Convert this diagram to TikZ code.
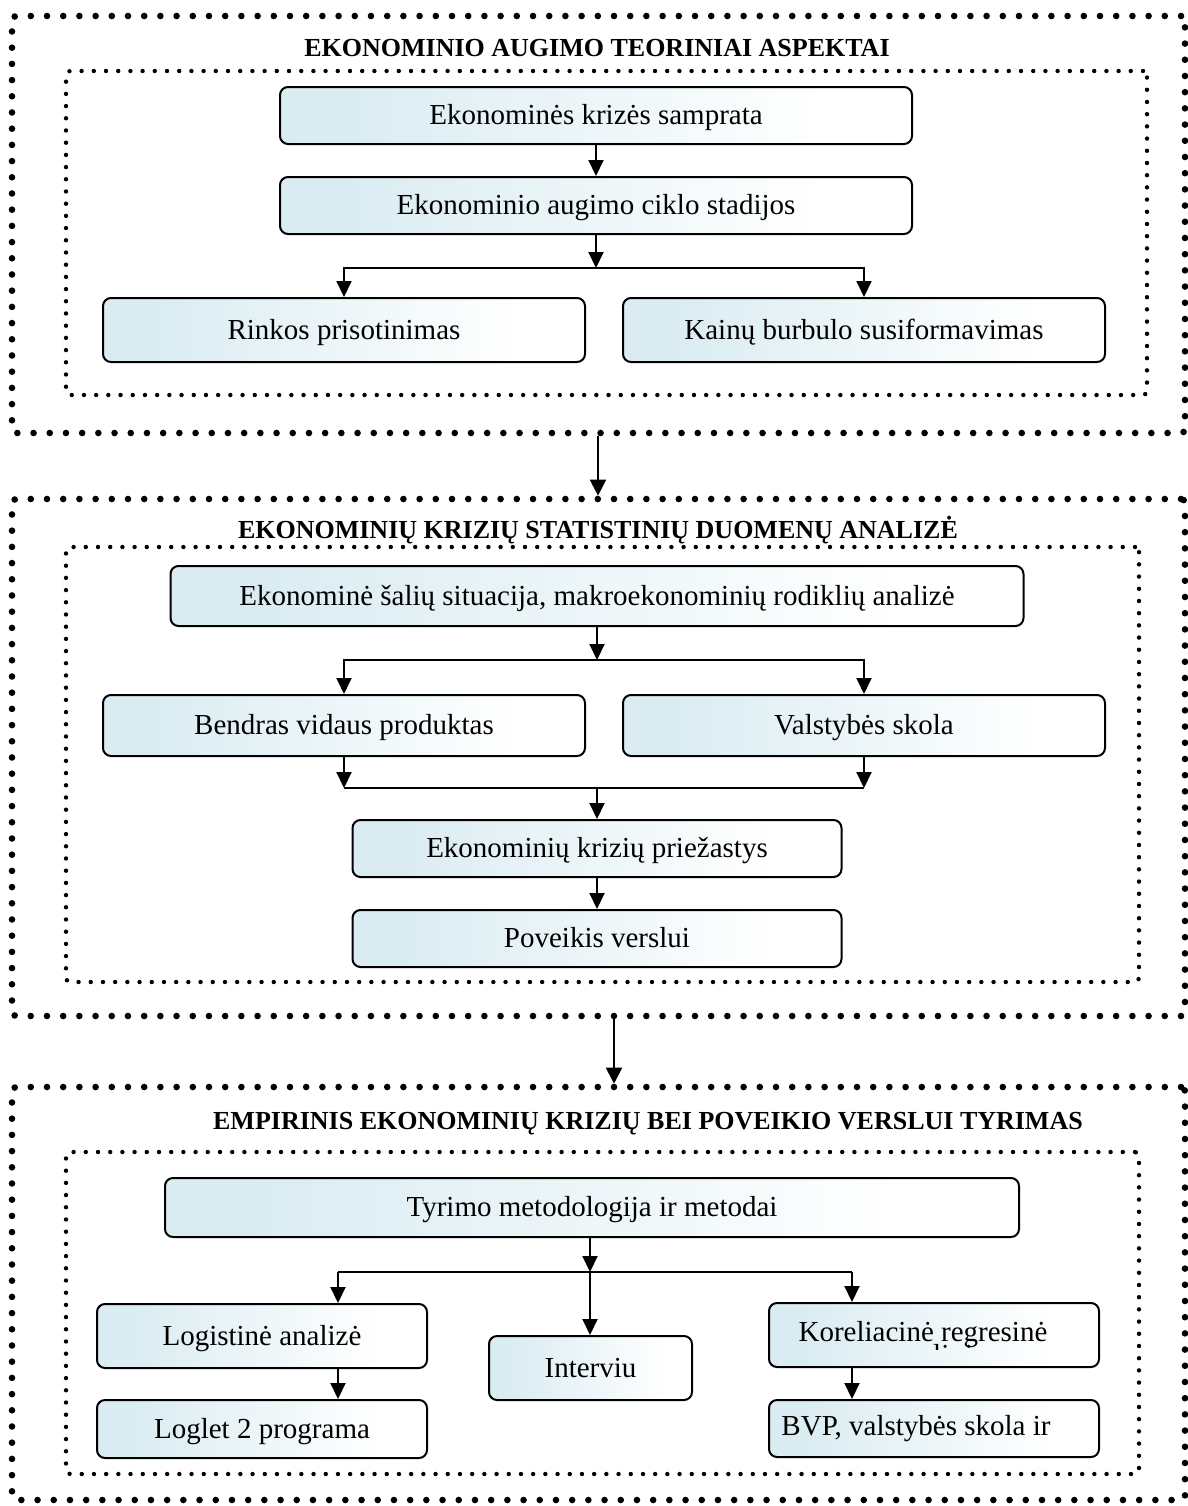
\documentclass[tikz,border=0pt]{standalone}
\usepackage{fontspec}
\setmainfont{Liberation Serif}
\usetikzlibrary{arrows.meta,calc}

\definecolor{boxblue}{RGB}{218,236,242}
% light blue on the left, fading to white towards the right edge
\pgfdeclarehorizontalshading{boxshade}{100bp}{color(0bp)=(boxblue); color(30bp)=(boxblue); color(68bp)=(white); color(100bp)=(white)}

\tikzset{
  box/.style={draw, line width=1pt, rounded corners=4pt, shading=boxshade,
    inner sep=0pt, text height=12pt, text depth=3pt,
    font=\fontsize{14.5}{17}\selectfont},
  outerframe/.style={draw, line width=3.3pt, line cap=round,
    dash pattern=on 0pt off 8.1pt, inner sep=0pt, rounded corners=2pt},
  innerframe/.style={draw, line width=2.2pt, line cap=round,
    dash pattern=on 0pt off 6.1pt, inner sep=0pt, rounded corners=2pt},
  sectitle/.style={font=\fontsize{13}{15}\selectfont\bfseries, inner sep=0pt},
  plain/.style={font=\fontsize{14.5}{17}\selectfont, inner sep=0pt},
  link/.style={line width=1pt, -{Triangle[length=8pt,width=7.5pt]}},
  biglink/.style={line width=1pt, -{Triangle[length=8pt,width=8pt]}},
  flow/.style={line width=1pt},
}

\begin{document}
\begin{tikzpicture}[x=0.5pt, y=-0.5pt]
\useasboundingbox (0,0) rectangle (1188,1506);

% ---------- frames ----------
\node[outerframe, minimum width=586.5pt, minimum height=208.5pt] (sec1) at (598.5,224.5) {};
\node[outerframe, minimum width=586.5pt, minimum height=258.5pt] (sec2) at (598.5,757.5) {};
\node[outerframe, minimum width=586.5pt, minimum height=206.5pt] (sec3) at (598.5,1293.5) {};

\node[innerframe, minimum width=540.5pt, minimum height=162pt] (in1) at (606.5,233) {};
\node[innerframe, minimum width=536.5pt, minimum height=217.5pt] (in2) at (602.5,764.5) {};
\node[innerframe, minimum width=536.5pt, minimum height=161pt] (in3) at (602.5,1313) {};

% ---------- titles ----------
\node[sectitle] (t1) at (597,48) {EKONOMINIO AUGIMO TEORINIAI ASPEKTAI};
\node[sectitle] (t2) at (598,530) {EKONOMINIŲ KRIZIŲ STATISTINIŲ DUOMENŲ ANALIZĖ};
\node[sectitle] (t3) at (648,1124) {EMPIRINIS EKONOMINIŲ KRIZIŲ BEI POVEIKIO VERSLUI TYRIMAS};

% ---------- section 1 ----------
\node[box, minimum width=316pt, minimum height=28.5pt] (ks) at (596,115.5) {Ekonominės krizės samprata};
\node[box, minimum width=316pt, minimum height=28.5pt] (cs) at (596,205.5) {Ekonominio augimo ciklo stadijos};
\node[box, minimum width=241pt, minimum height=32pt] (rp) at (344,330) {Rinkos prisotinimas};
\node[box, minimum width=241pt, minimum height=32pt] (kb) at (864,330) {Kainų burbulo susiformavimas};

\coordinate (sp1) at (596,268);
\draw[link] (ks) -- (cs);
\draw[link] (cs.south) -- (sp1);
\draw[link] (sp1) -| (rp.north);
\draw[link] (sp1) -| (kb.north);

% ---------- section 2 ----------
\node[box, minimum width=426.5pt, minimum height=30pt] (sit) at (597,596) {Ekonominė šalių situacija, makroekonominių rodiklių analizė};
\node[box, minimum width=241pt, minimum height=30.5pt] (bvp) at (344,725.5) {Bendras vidaus produktas};
\node[box, minimum width=241pt, minimum height=30.5pt] (vs) at (864,725.5) {Valstybės skola};
\node[box, minimum width=244.5pt, minimum height=28.5pt] (pr) at (597,848.5) {Ekonominių krizių priežastys};
\node[box, minimum width=244.5pt, minimum height=28.5pt] (pv) at (597,938.5) {Poveikis verslui};

\coordinate (sp2) at (597,660);
\coordinate (j2) at (597,788);
\draw[link] (sit.south) -- (sp2);
\draw[link] (sp2) -| (bvp.north);
\draw[link] (sp2) -| (vs.north);
\draw[link] (bvp.south) -- (bvp.south |- j2);
\draw[link] (vs.south) -- (vs.south |- j2);
\draw[flow] (bvp.south |- j2) -- (vs.south |- j2);
\draw[link] (j2) -- (pr.north);
\draw[link] (pr) -- (pv);

% ---------- section 3 ----------
\node[box, minimum width=427pt, minimum height=29.5pt] (ty) at (592,1207.5) {Tyrimo metodologija ir metodai};
\node[box, minimum width=165pt, minimum height=32pt] (lg) at (262,1336) {Logistinė analizė};
\node[box, minimum width=165pt, minimum height=29pt] (lp) at (262,1429) {Loglet 2 programa};
\node[box, minimum width=101.5pt, minimum height=32pt] (iv) at (590.5,1368) {Interviu};
\node[box, minimum width=165pt, minimum height=32pt] (kr) at (934,1335) {};
\node[box, minimum width=165pt, minimum height=28.5pt] (bv) at (934,1428.5) {};

% the text of these two boxes runs past their visible area
\node[plain, anchor=base] (krt) at (923,1341) {Koreliacinė regresinė};
\begin{scope}
  \clip (769,1303) rectangle (1099,1349);
  \node[plain, anchor=base] (krt2) at (934,1364) {analizė};
\end{scope}
\node[plain, anchor=base] (bvt) at (916,1435) {BVP, valstybės skola ir};

\coordinate (sp3) at (590,1272);
\coordinate (sp3l) at (338,1272);
\coordinate (sp3r) at (852,1272);
\draw[link] (sp3 |- ty.south) -- (sp3);
\draw[flow] (sp3l) -- (sp3r);
\draw[link] (sp3) -- (sp3 |- iv.north);
\draw[link] (sp3l) -- (sp3l |- lg.north);
\draw[link] (sp3r) -- (sp3r |- kr.north);
\draw[link] (sp3l |- lg.south) -- (sp3l |- lp.north);
\draw[link] (sp3r |- kr.south) -- (sp3r |- bv.north);

% ---------- links between sections ----------
\coordinate (c12) at (598,0);
\coordinate (c23) at (614,0);
\draw[biglink] (sec1.south -| c12) -- (sec2.north -| c12);
\draw[biglink] (sec2.south -| c23) -- (sec3.north -| c23);
\end{tikzpicture}
\end{document}
